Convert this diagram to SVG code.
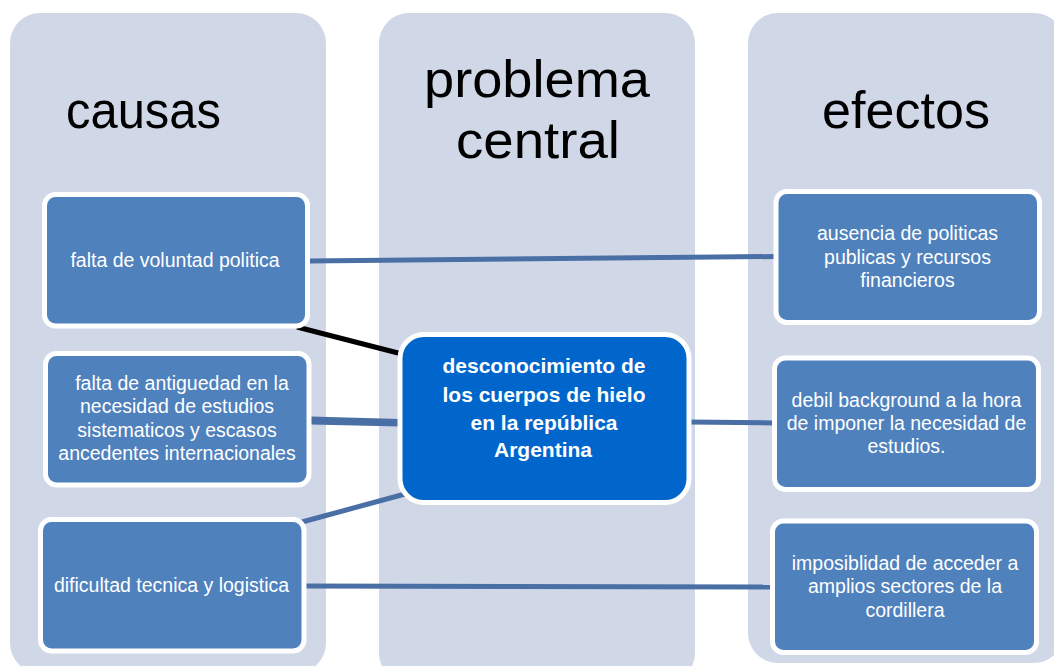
<svg xmlns="http://www.w3.org/2000/svg" width="1054" height="666" viewBox="0 0 1054 666">
<style>
.col{fill:#D0D8E8}
.hdr{font-family:"Liberation Sans",Arial,sans-serif;font-size:52px;fill:#000;text-anchor:middle}
.node rect{fill:#4F81BD;stroke:#fff;stroke-width:5}
.node text{font-family:"Liberation Sans",Arial,sans-serif;font-size:19.5px;fill:#fff;text-anchor:middle}
#central rect{fill:#0066CC;stroke:#fff;stroke-width:5}
#central text{font-family:"Liberation Sans",Arial,sans-serif;font-size:21px;font-weight:bold;fill:#fff;text-anchor:middle}
.conn{stroke:#4A6FA5;stroke-width:5;fill:none}
</style>
<rect width="1054" height="666" fill="#fff"/>
<g id="columns">
<rect class="col" x="10" y="13" width="316" height="660" rx="30"/>
<rect class="col" x="379" y="13" width="316" height="670" rx="30"/>
<rect class="col" x="748" y="13" width="316" height="650" rx="30"/>
<text class="hdr" x="143.5" y="128" textLength="155" lengthAdjust="spacingAndGlyphs">causas</text>
<text class="hdr" x="537" y="97" textLength="226" lengthAdjust="spacingAndGlyphs">problema</text>
<text class="hdr" x="538" y="158" textLength="164" lengthAdjust="spacingAndGlyphs">central</text>
<text class="hdr" x="906" y="128" textLength="168" lengthAdjust="spacingAndGlyphs">efectos</text>
</g>
<g id="connectors">
<line class="conn" x1="308" y1="261" x2="775" y2="256.5"/>
<line x1="297" y1="327" x2="402" y2="354" stroke="#000" stroke-width="5"/>
<line class="conn" x1="311" y1="419" x2="400" y2="421.5" stroke-width="4"/>
<line class="conn" x1="311" y1="422" x2="400" y2="424" stroke-width="3" stroke="#3D5F8F"/>
<line class="conn" x1="302" y1="522" x2="405" y2="494"/>
<line class="conn" x1="688" y1="422" x2="775" y2="423"/>
<line class="conn" x1="305" y1="586" x2="773" y2="587"/>
</g>
<g id="c1" class="node">
<rect x="44.5" y="194.5" width="263" height="131.5" rx="11"/>
<text x="175" y="267">falta de voluntad politica</text>
</g>
<g id="c2" class="node">
<rect x="45.5" y="353.5" width="263.5" height="131.5" rx="11"/>
<text x="182" y="390">falta de antiguedad en la</text>
<text x="177" y="413">necesidad de estudios</text>
<text x="177" y="437">sistematicos y escasos</text>
<text x="177" y="460">ancedentes internacionales</text>
</g>
<g id="c3" class="node">
<rect x="40.5" y="519.5" width="263.5" height="131.5" rx="11"/>
<text x="171.5" y="592">dificultad tecnica y logistica</text>
</g>
<g id="central">
<rect x="400" y="334.5" width="289" height="168" rx="24"/>
<text x="544" y="373">desconocimiento de</text>
<text x="544" y="402">los cuerpos de hielo</text>
<text x="544" y="430">en la república</text>
<text x="543" y="457">Argentina</text>
</g>
<g id="e1" class="node">
<rect x="776" y="191.5" width="263.5" height="131" rx="11"/>
<text x="907.5" y="240">ausencia de politicas</text>
<text x="907.5" y="263.5">publicas y recursos</text>
<text x="907.5" y="287">financieros</text>
</g>
<g id="e2" class="node">
<rect x="774.5" y="358" width="264" height="131.5" rx="11"/>
<text x="906.5" y="407">debil background a la hora</text>
<text x="906.5" y="430">de imponer la necesidad de</text>
<text x="906.5" y="453">estudios.</text>
</g>
<g id="e3" class="node">
<rect x="772.5" y="521" width="264" height="131.5" rx="11"/>
<text x="905" y="570">imposiblidad de acceder a</text>
<text x="905" y="593">amplios sectores de la</text>
<text x="905" y="617">cordillera</text>
</g>
</svg>
